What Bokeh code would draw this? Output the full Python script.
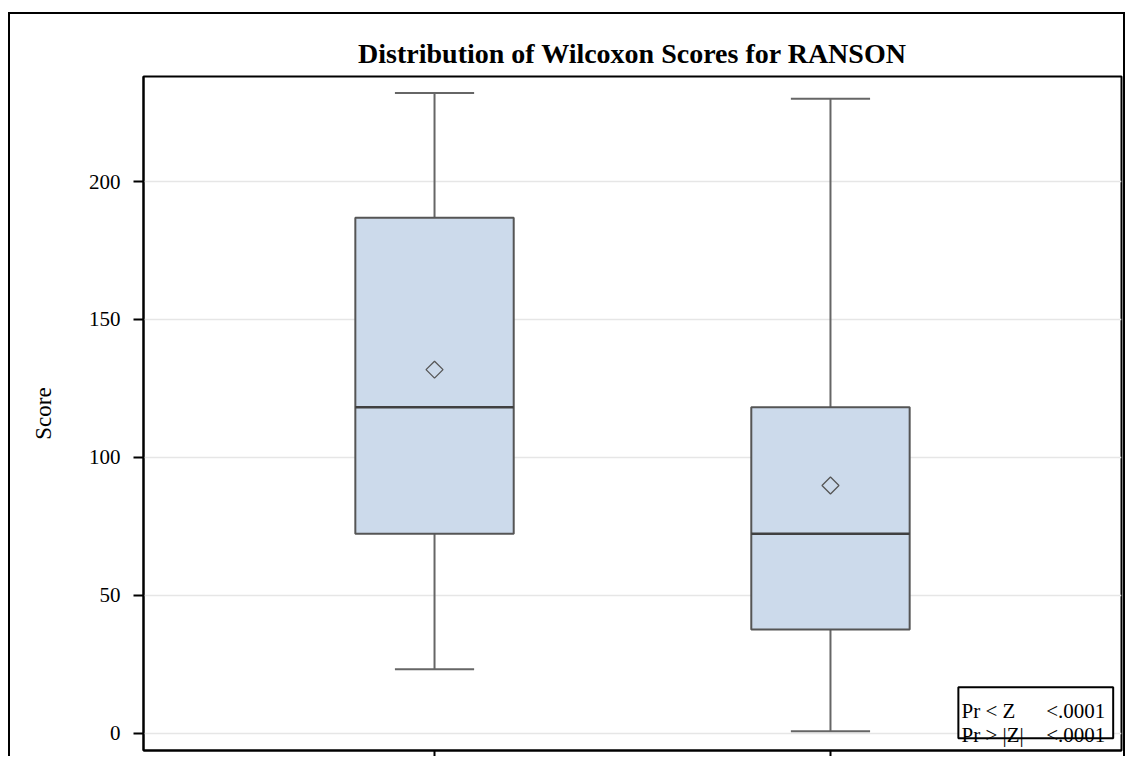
from bokeh.plotting import figure
from bokeh.models import FactorRange, Range1d, FixedTicker, ColumnDataSource, BoxAnnotation
from bokeh.transform import dodge
from bokeh.core.properties import value
from bokeh.embed import file_html
from bokeh.resources import INLINE

# ---- data ----
groups = ["Group 1", "Group 2"]
lower = [23.2, 0.7]
q1 = [72.3, 37.6]
median = [118.2, 72.3]
q3 = [186.9, 118.2]
upper = [232.1, 230.0]
mean = [131.8, 89.8]
y_ticks = [0, 50, 100, 150, 200]
stat_labels = ["Pr < Z", "Pr > |Z|"]
stat_values = ["<.0001", "<.0001"]

FONT = "Liberation Serif"

src = ColumnDataSource(dict(g=groups, lower=lower, q1=q1, median=median,
                            q3=q3, upper=upper, mean=mean))

p = figure(x_range=FactorRange(factors=groups, range_padding=0.235,
                               range_padding_units="absolute"),
           y_range=Range1d(-6.3, 238.1),
           width=1117, height=744,
           output_backend="svg", toolbar_location=None,
           title="Distribution of Wilcoxon Scores for RANSON",
           min_border_left=133, min_border_right=6,
           min_border_top=62, min_border_bottom=8)
p.margin = (12, 0, 0, 8)
p.styles = {"border-top": "2px solid black", "border-left": "2px solid black",
            "border-right": "2px solid black"}

p.title.align = "center"
p.title.text_font = FONT
p.title.text_font_size = "28px"
p.title.text_font_style = "bold"
p.title.text_color = "black"
p.title.standoff = 15

p.background_fill_color = "white"
p.border_fill_color = "white"
p.outline_line_color = "black"
p.outline_line_width = 2

# grid
p.xgrid.grid_line_color = None
p.ygrid.grid_line_color = "#e6e6e6"
p.ygrid.grid_line_width = 1.5

# y axis
p.yaxis.ticker = FixedTicker(ticks=y_ticks)
p.yaxis.axis_label = "Score"
p.yaxis.axis_label_text_font = FONT
p.yaxis.axis_label_text_font_size = "23px"
p.yaxis.axis_label_text_font_style = "normal"
p.yaxis.axis_label_text_color = "black"
p.yaxis.axis_label_standoff = 30
p.yaxis.major_label_text_font = FONT
p.yaxis.major_label_text_font_size = "21px"
p.yaxis.major_label_text_color = "black"
p.yaxis.major_label_standoff = 13
p.yaxis.major_tick_out = 10
p.yaxis.major_tick_in = 0
p.yaxis.minor_tick_out = 0
p.yaxis.minor_tick_in = 0
p.yaxis.axis_line_width = 2
p.yaxis.major_tick_line_width = 2

# x axis (category labels fall below the visible area in the reference)
p.xaxis.major_label_text_font_size = "1px"
p.xaxis.major_label_text_color = None
p.xaxis.major_label_standoff = 0
p.xaxis.major_tick_out = 8
p.xaxis.major_tick_in = 0
p.xaxis.axis_line_width = 2
p.xaxis.major_tick_line_width = 2

WHISK = "#666666"
# whisker stems
p.segment(x0="g", y0="q3", x1="g", y1="upper", source=src, line_color=WHISK, line_width=2)
p.segment(x0="g", y0="q1", x1="g", y1="lower", source=src, line_color=WHISK, line_width=2)
# whisker caps
p.segment(x0=dodge("g", -0.1, range=p.x_range), y0="upper",
          x1=dodge("g", 0.1, range=p.x_range), y1="upper",
          source=src, line_color=WHISK, line_width=2)
p.segment(x0=dodge("g", -0.1, range=p.x_range), y0="lower",
          x1=dodge("g", 0.1, range=p.x_range), y1="lower",
          source=src, line_color=WHISK, line_width=2)
# boxes
p.vbar(x="g", width=0.4, bottom="q1", top="q3", source=src,
       fill_color="#CCDAEB", line_color="#555555", line_width=2)
# medians
p.segment(x0=dodge("g", -0.2, range=p.x_range), y0="median",
          x1=dodge("g", 0.2, range=p.x_range), y1="median",
          source=src, line_color="#404040", line_width=2.5)
# means
p.scatter(x="g", y="mean", source=src, marker="square", angle=45,
          angle_units="deg", size=12,
          fill_color=None, line_color="#555555", line_width=1.3)

# statistics inset
p.add_layout(BoxAnnotation(left=1.823, right=2.214, bottom=-1.9, top=16.6,
                           fill_color="white", fill_alpha=1.0,
                           line_color="black", line_alpha=1.0, line_width=2,
                           level="annotation"))
stat_src = ColumnDataSource(dict(lab=stat_labels, val=stat_values,
                                 xl=[1.831, 1.831], xr=[2.194, 2.194], y=[8.2, -0.8]))
p.text(x="xl", y="y", text="lab", source=stat_src, text_font=value(FONT),
       text_font_size="21px", text_color="black", text_baseline="alphabetic",
       text_align="left", level="overlay")
p.text(x="xr", y="y", text="val", source=stat_src, text_font=value(FONT),
       text_font_size="21px", text_color="black", text_baseline="alphabetic",
       text_align="right", level="overlay")

open("out.html", "w").write(file_html(p, INLINE))
